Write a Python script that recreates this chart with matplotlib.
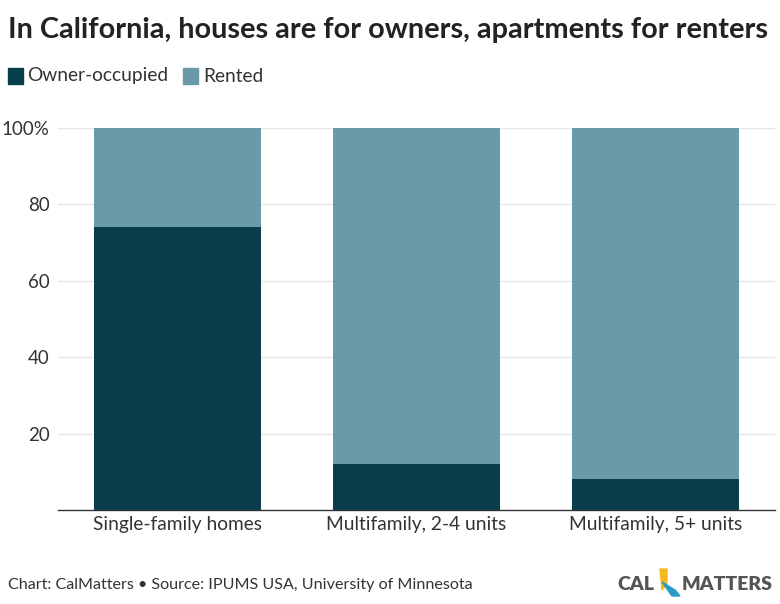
import matplotlib
matplotlib.use("Agg")
import matplotlib.pyplot as plt
from matplotlib.patches import Rectangle, Polygon

categories = ["Single-family homes", "Multifamily, 2-4 units", "Multifamily, 5+ units"]
owner = [74, 12, 8]
rented = [26, 88, 92]
yticks = [20, 40, 60, 80, 100]
ytick_labels = ["20", "40", "60", "80", "100%"]

dark = "#083e4c"
light = "#6a99aa"
text_col = "#333333"

plt.rcParams['font.family'] = ['Lato', 'DejaVu Sans']

W, H = 780, 604
fig = plt.figure(figsize=(W/100, H/100), dpi=100)
ax = fig.add_axes([58/W, 1-510/H, (775-58)/W, (510-128)/H])

x = list(range(len(categories)))
ax.bar(x, owner, width=0.70, color=dark, zorder=3)
ax.bar(x, rented, width=0.70, bottom=owner, color=light, zorder=3)

ax.set_xlim(-0.5, 2.5)
ax.set_ylim(0, 100)
ax.set_yticks(yticks)
ax.set_yticklabels(ytick_labels)
ax.yaxis.grid(True, color="#e6e6e6", linewidth=1, zorder=0)
ax.tick_params(axis='y', length=0, pad=6, labelsize=13.5, labelcolor=text_col)
ax.tick_params(axis='x', length=0, pad=4, labelsize=13.8, labelcolor=text_col)
ax.set_xticks(x)
ax.set_xticklabels(categories)
for s in ["top", "right", "left"]:
    ax.spines[s].set_visible(False)
ax.spines["bottom"].set_color("#333333")
ax.spines["bottom"].set_linewidth(1)

# Title
fig.text(8/W, 1-30/H, "In California, houses are for owners, apartments for renters",
         fontsize=20.8, fontweight='bold', color="#222222", va='center', ha='left')

# Legend
fig.patches.append(Rectangle((8/W, 1-84/H), 15/W, 16/H, transform=fig.transFigure,
                             color=dark, figure=fig))
fig.text(27/W, 1-76/H, "Owner-occupied", fontsize=13.8, color=text_col, va='center')
fig.patches.append(Rectangle((183/W, 1-84/H), 15/W, 16/H, transform=fig.transFigure,
                             color=light, figure=fig))
fig.text(203/W, 1-76/H, "Rented", fontsize=13.8, color=text_col, va='center')

# Footer
fig.text(8/W, 1-585/H, "Chart: CalMatters • Source: IPUMS USA, University of Minnesota",
         fontsize=11.6, color=text_col, va='center')

# Logo
fig.text(617/W, 1-584/H, "CAL", fontsize=14, fontweight='heavy', color="#555555",
         va='center', ha='left')
fig.text(773/W, 1-584/H, "MATTERS", fontsize=14, fontweight='heavy', color="#555555",
         va='center', ha='right')
fig.patches.append(Polygon([(660/W, 1-569/H), (667/W, 1-569/H), (667/W, 1-584/H), (662/W, 1-590/H)],
                           closed=True, transform=fig.transFigure, color="#f5b820", figure=fig))
fig.patches.append(Polygon([(662/W, 1-582/H), (675/W, 1-590/H), (680/W, 1-596/H), (672/W, 1-596/H)],
                           closed=True, transform=fig.transFigure, color="#2a9bc4", figure=fig))

fig.savefig("out.png", dpi=100, facecolor="white")
